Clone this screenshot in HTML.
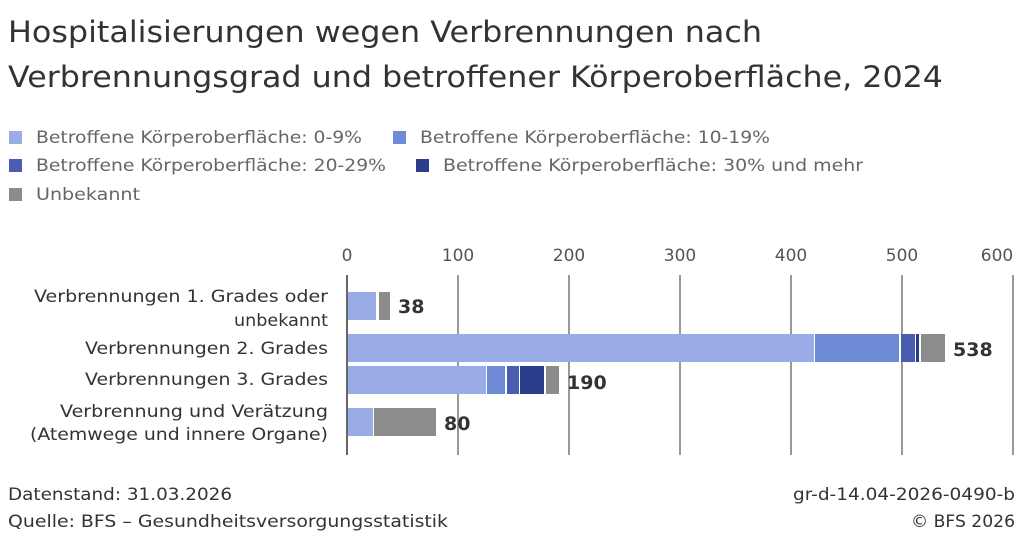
<!DOCTYPE html>
<html><head><meta charset="utf-8"><style>
html,body{margin:0;padding:0;background:#fff;}
svg{display:block;font-family:"DejaVu Sans","Liberation Sans",sans-serif;}
</style></head><body>
<svg width="1024" height="542" viewBox="0 0 1024 542" xmlns="http://www.w3.org/2000/svg">
<g fill="#333" font-size="29">
<text x="8" y="42" textLength="754" lengthAdjust="spacingAndGlyphs">Hospitalisierungen wegen Verbrennungen nach</text>
<text x="8" y="87" textLength="935" lengthAdjust="spacingAndGlyphs">Verbrennungsgrad und betroffener Körperoberfläche, 2024</text>
</g>
<g font-size="17" fill="#666">
<rect x="9" y="131" width="13" height="13" fill="#9aace6"/>
<text x="36" y="143" textLength="326" lengthAdjust="spacingAndGlyphs">Betroffene Körperoberfläche: 0-9%</text>
<rect x="393" y="131" width="13" height="13" fill="#6f8bd6"/>
<text x="420" y="143" textLength="350" lengthAdjust="spacingAndGlyphs">Betroffene Körperoberfläche: 10-19%</text>
<rect x="9" y="159" width="13" height="13" fill="#4a5db0"/>
<text x="36" y="171" textLength="350" lengthAdjust="spacingAndGlyphs">Betroffene Körperoberfläche: 20-29%</text>
<rect x="416" y="159" width="13" height="13" fill="#2a3e8c"/>
<text x="443" y="171" textLength="420" lengthAdjust="spacingAndGlyphs">Betroffene Körperoberfläche: 30% und mehr</text>
<rect x="9" y="188" width="13" height="13" fill="#8c8c8c"/>
<text x="36" y="200" textLength="104" lengthAdjust="spacingAndGlyphs">Unbekannt</text>
</g>
<g font-size="17" fill="#555" text-anchor="middle">
<text x="347" y="261">0</text><text x="458" y="261">100</text><text x="569" y="261">200</text>
<text x="680" y="261">300</text><text x="791" y="261">400</text><text x="902" y="261">500</text><text x="997" y="261">600</text>
</g>
<g stroke="#999" stroke-width="2">
<line x1="458" y1="275" x2="458" y2="455"/><line x1="569" y1="275" x2="569" y2="455"/>
<line x1="680" y1="275" x2="680" y2="455"/><line x1="791" y1="275" x2="791" y2="455"/>
<line x1="902" y1="275" x2="902" y2="455"/><line x1="1013" y1="275" x2="1013" y2="455"/>
</g>
<line x1="347" y1="275" x2="347" y2="455" stroke="#666" stroke-width="2"/>
<rect x="348" y="292" width="28" height="28" fill="#9aace6"/>
<rect x="379" y="292" width="11" height="28" fill="#8c8c8c"/>
<rect x="348" y="334" width="466" height="28" fill="#9aace6"/>
<rect x="815" y="334" width="84" height="28" fill="#6f8bd6"/>
<rect x="901" y="334" width="14" height="28" fill="#4a5db0"/>
<rect x="916" y="334" width="3" height="28" fill="#2a3e8c"/>
<rect x="921" y="334" width="24" height="28" fill="#8c8c8c"/>
<rect x="348" y="366" width="138" height="28" fill="#9aace6"/>
<rect x="487" y="366" width="18" height="28" fill="#6f8bd6"/>
<rect x="507" y="366" width="12" height="28" fill="#4a5db0"/>
<rect x="520" y="366" width="24" height="28" fill="#2a3e8c"/>
<rect x="546" y="366" width="13" height="28" fill="#8c8c8c"/>
<rect x="348" y="408" width="25" height="28" fill="#9aace6"/>
<rect x="374" y="408" width="62" height="28" fill="#8c8c8c"/>
<g font-size="19" font-weight="bold" fill="#333">
<text x="398" y="313">38</text><text x="953" y="356">538</text>
<text x="567" y="389">190</text><text x="444" y="430">80</text>
</g>
<g font-size="17" fill="#333" text-anchor="end">
<text x="328" y="302" textLength="294" lengthAdjust="spacingAndGlyphs">Verbrennungen 1. Grades oder</text>
<text x="328" y="326" textLength="94" lengthAdjust="spacingAndGlyphs">unbekannt</text>
<text x="328" y="354" textLength="243" lengthAdjust="spacingAndGlyphs">Verbrennungen 2. Grades</text>
<text x="328" y="385" textLength="243" lengthAdjust="spacingAndGlyphs">Verbrennungen 3. Grades</text>
<text x="328" y="417" textLength="268" lengthAdjust="spacingAndGlyphs">Verbrennung und Verätzung</text>
<text x="328" y="440" textLength="298" lengthAdjust="spacingAndGlyphs">(Atemwege und innere Organe)</text>
</g>
<g font-size="16.5" fill="#333">
<text x="8" y="500" textLength="224" lengthAdjust="spacingAndGlyphs">Datenstand: 31.03.2026</text>
<text x="8" y="527" textLength="440" lengthAdjust="spacingAndGlyphs">Quelle: BFS – Gesundheitsversorgungsstatistik</text>
<text x="1015" y="500" text-anchor="end" textLength="222" lengthAdjust="spacingAndGlyphs">gr-d-14.04-2026-0490-b</text>
<text x="1015" y="527" text-anchor="end" textLength="104" lengthAdjust="spacingAndGlyphs">© BFS 2026</text>
</g>
</svg>
</body></html>
